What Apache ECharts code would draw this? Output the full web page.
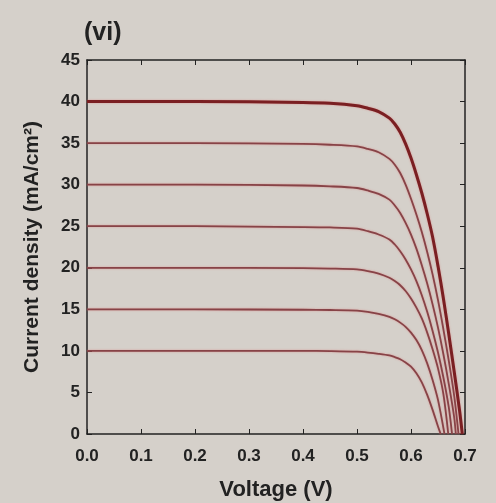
<!DOCTYPE html>
<html lang="en">
<head>
  <meta charset="UTF-8">
  <title>J-V curves</title>
  <script src="https://cdn.jsdelivr.net/npm/echarts@6/dist/echarts.min.js"></script>
  <style>
    html, body { margin: 0; padding: 0; background: #d5d0ca; }
  </style>
</head>
<body>
  <div id="main" style="width:496px;height:503px;"></div>
  <script type="text/javascript">
    // J-V curves: voltage (V) and current density (mA/cm2)
    var volts = [0, 0.2, 0.4, 0.45, 0.5, 0.52, 0.54, 0.56, 0.57, 0.58, 0.59, 0.6, 0.61, 0.62, 0.63, 0.64, 0.65, 0.66, 0.67, 0.68, 0.69];
    var jsc40 = [40, 40, 39.9, 39.8, 39.5, 39.2, 38.8, 38.0, 37.3, 36.3, 34.9, 33.2, 31.2, 29.0, 26.5, 23.7, 20.2, 16.3, 12.0, 7.5, 2.8];
    var jsc35 = [35, 35, 34.9, 34.8, 34.6, 34.3, 33.9, 33.1, 32.4, 31.4, 30.0, 28.3, 26.4, 24.3, 21.9, 19.2, 16.1, 12.6, 8.8, 4.6];
    var jsc30 = [30, 30, 29.9, 29.8, 29.6, 29.3, 28.9, 28.2, 27.5, 26.6, 25.4, 24.0, 22.3, 20.3, 18.1, 15.6, 12.8, 9.6, 6.0, 2.0];
    var jsc25 = [25, 25, 24.9, 24.85, 24.7, 24.4, 24.0, 23.4, 22.8, 22.0, 21.0, 19.8, 18.4, 16.7, 14.7, 12.4, 9.8, 6.8, 3.2];
    var jsc20 = [20, 20, 19.95, 19.9, 19.8, 19.6, 19.3, 18.8, 18.4, 17.9, 17.2, 16.3, 15.2, 13.9, 12.2, 10.2, 7.9, 4.8];
    var jsc15 = [15, 15, 14.95, 14.92, 14.85, 14.7, 14.45, 14.1, 13.8, 13.4, 12.9, 12.2, 11.3, 10.1, 8.5, 6.5, 4.1];
    var jsc10 = [10, 10, 10, 9.97, 9.9, 9.8, 9.65, 9.45, 9.25, 9.0, 8.6, 8.1, 7.3, 6.2, 4.7, 2.9, 0.9];
    // open-circuit voltage of each curve (J = 0)
    var voc = [0.695, 0.688, 0.683, 0.676, 0.669, 0.662, 0.655];
    var curves = [jsc40, jsc35, jsc30, jsc25, jsc20, jsc15, jsc10];

    var font = '"Liberation Sans", Arial, sans-serif';
    var myChart = echarts.init(document.getElementById('main'));

    var series = curves.map(function (jv, i) {
      var pts = jv.map(function (j, k) { return [volts[k], j]; });
      pts.push([voc[i], 0]);
      return {
        type: 'line',
        data: pts,
        showSymbol: false,
        smooth: 0.3,
        lineStyle: {
          color: i === 0 ? '#7a1f22' : '#874347',
          width: i === 0 ? 3 : 1.8,
          shadowColor: 'rgba(220,110,110,0.6)',
          shadowBlur: 2
        },
        z: 10 - i
      };
    });

    var tickLabel = { color: '#222', fontSize: 17, fontWeight: 'bold', fontFamily: font };
    var boxLine = { show: true, onZero: false, lineStyle: { color: '#222', width: 1.5 } };
    var inTick = { show: true, inside: true, length: 5, lineStyle: { color: '#222' } };

    var option = {
      backgroundColor: '#d5d0ca',
      animation: false,
      title: {
        text: '(vi)',
        left: 79,
        top: 16,
        textStyle: { color: '#222', fontSize: 25, fontWeight: 'bold', fontFamily: font }
      },
      grid: { left: 87, right: 31, top: 60, bottom: 69, containLabel: false, outerBoundsMode: 'none' },
      xAxis: [{
        type: 'value',
        min: 0, max: 0.7, interval: 0.1,
        name: 'Voltage (V)',
        nameLocation: 'middle',
        nameGap: 45,
        nameTextStyle: { color: '#222', fontSize: 22, fontWeight: 'bold', fontFamily: font },
        axisLine: boxLine,
        axisTick: inTick,
        axisLabel: Object.assign({ margin: 14, formatter: function (v) { return v.toFixed(1); } }, tickLabel),
        splitLine: { show: false }
      }, {
        type: 'value',
        position: 'top',
        min: 0, max: 0.7, interval: 0.1,
        axisLine: boxLine,
        axisTick: inTick,
        axisLabel: { show: false },
        splitLine: { show: false }
      }],
      yAxis: [{
        type: 'value',
        min: 0, max: 45, interval: 5,
        name: 'Current density (mA/cm²)',
        nameLocation: 'middle',
        nameGap: 44,
        nameTextStyle: { color: '#222', fontSize: 21, fontWeight: 'bold', fontFamily: font },
        axisLine: boxLine,
        axisTick: inTick,
        axisLabel: Object.assign({ margin: 7 }, tickLabel),
        splitLine: { show: false }
      }, {
        type: 'value',
        position: 'right',
        min: 0, max: 45, interval: 5,
        axisLine: boxLine,
        axisTick: inTick,
        axisLabel: { show: false },
        splitLine: { show: false }
      }],
      series: series
    };

    myChart.setOption(option);
  </script>
</body>
</html>
